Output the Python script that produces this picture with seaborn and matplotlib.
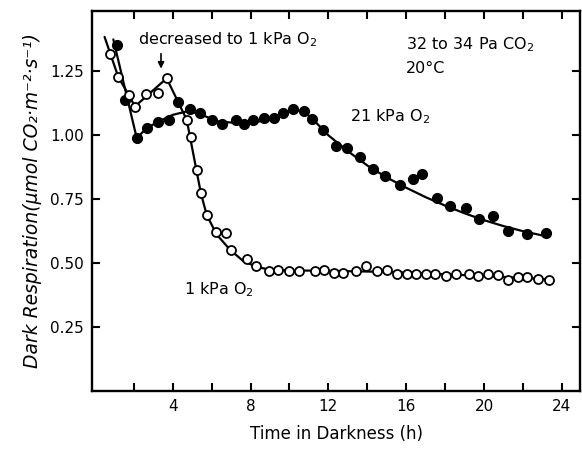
import matplotlib
matplotlib.use("Agg")
import matplotlib.pyplot as plt
import seaborn as sns
import pandas as pd

# ---- data ----
# 21 kPa O2 (filled circles)
hi_x = [1.15, 1.57, 2.16, 2.70, 3.23, 3.83, 4.26, 4.89, 5.40, 6.00, 6.55, 7.24, 7.66,
        8.14, 8.68, 9.19, 9.68, 10.18, 10.73, 11.18, 11.74, 12.37, 12.94, 13.62,
        14.30, 14.90, 15.68, 16.36, 16.79, 17.56, 18.24, 19.06, 19.75, 20.47,
        21.24, 22.21, 23.17]
hi_y = [1.354, 1.140, 0.988, 1.029, 1.052, 1.061, 1.129, 1.104, 1.087, 1.061, 1.044,
        1.059, 1.044, 1.059, 1.068, 1.068, 1.086, 1.104, 1.095, 1.062, 1.022, 0.958,
        0.950, 0.914, 0.869, 0.840, 0.805, 0.830, 0.850, 0.753, 0.725, 0.714, 0.673,
        0.686, 0.625, 0.616, 0.619]

# 1 kPa O2 (open circles)
lo_x = [0.78, 1.21, 1.74, 2.06, 2.63, 3.26, 3.69, 4.72, 4.93, 5.23, 5.45, 5.75, 6.21,
        6.72, 7.00, 7.80, 8.27, 8.95, 9.41, 9.99, 10.49, 11.31, 11.76, 12.27, 12.76,
        13.42, 13.91, 14.48, 14.99, 15.50, 16.02, 16.50, 17.00, 17.47, 18.04, 18.54,
        19.22, 19.70, 20.21, 20.72, 21.24, 21.72, 22.21, 22.78, 23.33]
lo_y = [1.319, 1.227, 1.156, 1.112, 1.162, 1.166, 1.223, 1.061, 0.994, 0.863, 0.773,
        0.688, 0.623, 0.619, 0.551, 0.517, 0.488, 0.469, 0.474, 0.471, 0.469, 0.471,
        0.472, 0.460, 0.462, 0.471, 0.488, 0.469, 0.475, 0.459, 0.459, 0.459, 0.459,
        0.459, 0.449, 0.459, 0.459, 0.449, 0.459, 0.452, 0.436, 0.445, 0.445, 0.440,
        0.436]

# hand-drawn fitted curves (nodes)
hi_fit_x = [0.95, 2.15, 2.70, 3.30, 4.00, 4.80, 5.50, 6.30, 7.00, 8.00, 9.00, 9.70,
            10.30, 10.80, 11.30, 12.00, 13.00, 14.00, 15.00, 16.00, 17.00, 18.00,
            19.00, 20.00, 21.00, 22.00, 23.20]
hi_fit_y = [1.375, 0.990, 1.030, 1.055, 1.080, 1.095, 1.080, 1.055, 1.050, 1.050,
            1.060, 1.085, 1.100, 1.090, 1.055, 1.000, 0.938, 0.882, 0.835, 0.795,
            0.758, 0.725, 0.695, 0.668, 0.645, 0.625, 0.605]
lo_fit_x = [0.50, 1.21, 1.76, 2.06, 3.69, 4.72, 5.45, 5.75, 6.26, 6.94, 7.63, 8.31,
            9.00, 10.00, 12.00, 15.00, 17.00, 20.00, 23.33]
lo_fit_y = [1.385, 1.227, 1.156, 1.113, 1.223, 1.061, 0.773, 0.688, 0.612, 0.553,
            0.508, 0.486, 0.474, 0.472, 0.470, 0.466, 0.460, 0.450, 0.437]

x_ticks = [2, 4, 6, 8, 10, 12, 14, 16, 18, 20, 22, 24]
x_labels = ["", "4", "", "8", "", "12", "", "16", "", "20", "", "24"]
y_ticks = [0.25, 0.50, 0.75, 1.00, 1.25]
y_labels = ["0.25", "0.50", "0.75", "1.00", "1.25"]

hi_pts = pd.DataFrame({"t": hi_x, "r": hi_y})
lo_pts = pd.DataFrame({"t": lo_x, "r": lo_y})
hi_fit = pd.DataFrame({"t": hi_fit_x, "r": hi_fit_y})
lo_fit = pd.DataFrame({"t": lo_fit_x, "r": lo_fit_y})

sns.set_style("ticks")
plt.rcParams["font.family"] = ["DejaVu Sans"]
plt.rcParams["text.color"] = "black"
plt.rcParams["axes.labelcolor"] = "black"

fig = plt.figure(figsize=(5.82, 4.5), dpi=100)
ax = fig.add_axes([0.1586, 0.131, 0.8388, 0.845])

sns.lineplot(data=hi_fit, x="t", y="r", ax=ax, color="black", lw=1.6,
             sort=False, estimator=None, zorder=2)
sns.lineplot(data=lo_fit, x="t", y="r", ax=ax, color="black", lw=1.6,
             sort=False, estimator=None, zorder=2)
sns.scatterplot(data=hi_pts, x="t", y="r", ax=ax, s=52, color="black",
                edgecolor="black", linewidth=0.8, zorder=3)
sns.scatterplot(data=lo_pts, x="t", y="r", ax=ax, s=42, facecolor="white",
                edgecolor="black", linewidth=1.3, zorder=4)

ax.set_xlim(-0.13, 24.95)
ax.set_ylim(0.0, 1.487)
ax.set_xticks(x_ticks)
ax.set_xticklabels(x_labels)
ax.set_yticks(y_ticks)
ax.set_yticklabels(y_labels)
ax.tick_params(axis="both", direction="in", length=6, width=1.5, labelsize=11,
               top=True, right=True, pad=6, colors="black")
for sp in ax.spines.values():
    sp.set_linewidth(1.7)
    sp.set_color("black")

ax.set_xlabel("Time in Darkness (h)", fontsize=12, labelpad=8, color="black")
ax.set_ylabel("Dark Respiration(µmol CO₂·m⁻²·s⁻¹)", fontsize=13.5,
              style="italic", labelpad=6, color="black")

ax.text(2.2, 1.375, "decreased to 1 kPa O$_2$", fontsize=11.5, va="center",
        ha="left", color="black")
ax.annotate("", xy=(3.4, 1.25), xytext=(3.4, 1.33),
            arrowprops=dict(arrowstyle="-|>", color="black", lw=1.2,
                            mutation_scale=9))
ax.text(16.0, 1.355, "32 to 34 Pa CO$_2$", fontsize=11.5, va="center",
        ha="left", color="black")
ax.text(16.0, 1.262, "20°C", fontsize=11.5, va="center", ha="left", color="black")
ax.text(13.1, 1.072, "21 kPa O$_2$", fontsize=11.5, va="center", ha="left",
        color="black")
ax.text(4.6, 0.395, "1 kPa O$_2$", fontsize=11.5, va="center", ha="left",
        color="black")

fig.savefig("out.png", dpi=100)
